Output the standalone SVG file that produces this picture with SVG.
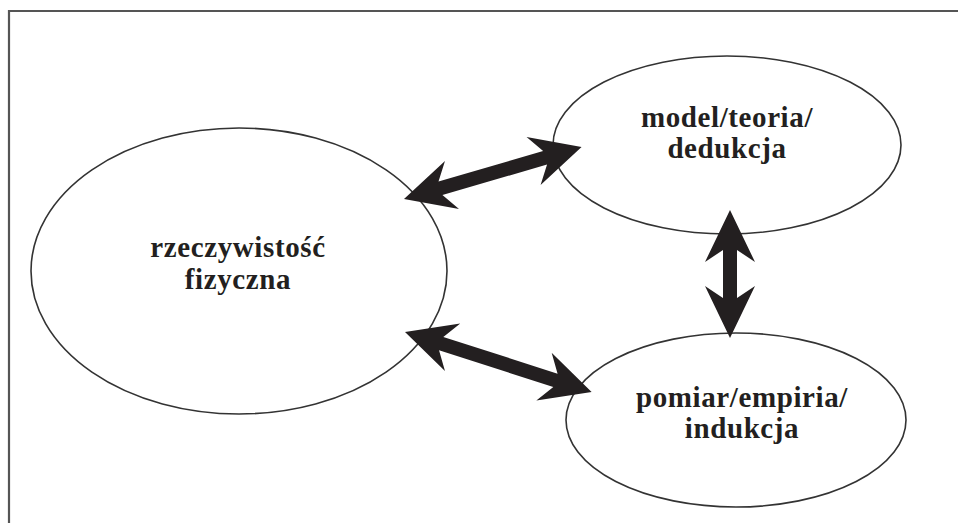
<svg xmlns="http://www.w3.org/2000/svg" width="958" height="523" viewBox="0 0 958 523">
<style>
.frame{fill:none;stroke:#555;stroke-width:2.2}
.node{fill:#fff;stroke:#333;stroke-width:1.6}
.lbl{font-family:"Liberation Serif","Times New Roman",serif;font-weight:bold;font-size:29px;letter-spacing:0.6px;fill:#231f20;text-anchor:middle}
.arrow{fill:#231f20;stroke:none}
</style>
<rect width="958" height="523" fill="#fff"/>
<path class="frame" d="M9,523 L9,11 L958,11"/>
<g id="node-rzeczywistosc">
<ellipse class="node" cx="239" cy="271" rx="208" ry="143"/>
<text class="lbl" x="238" y="257">rzeczywistość</text>
<text class="lbl" x="238" y="289">fizyczna</text>
</g>
<g id="node-model">
<ellipse class="node" cx="727" cy="145" rx="174" ry="89"/>
<text class="lbl" x="727" y="127">model/teoria/</text>
<text class="lbl" x="727" y="158">dedukcja</text>
</g>
<g id="node-pomiar">
<ellipse class="node" cx="736" cy="420" rx="170" ry="87"/>
<text class="lbl" x="742" y="407">pomiar/empiria/</text>
<text class="lbl" x="742" y="438">indukcja</text>
</g>
<g id="connectors">
<path class="arrow" transform="translate(404,199) rotate(-16.3)" d="M0,0 L50,-25 L38,-7 L147,-7 L135,-25 L185,0 L135,25 L147,7 L38,7 L50,25 Z"/>
<path class="arrow" transform="translate(405,332) rotate(17.8)" d="M0,0 L50,-25 L38,-7 L158,-7 L146,-25 L196,0 L146,25 L158,7 L38,7 L50,25 Z"/>
<path class="arrow" transform="translate(730,210) rotate(90)" d="M0,0 L52,-25 L40,-7 L88,-7 L76,-25 L128,0 L76,25 L88,7 L40,7 L52,25 Z"/>
</g>
</svg>
